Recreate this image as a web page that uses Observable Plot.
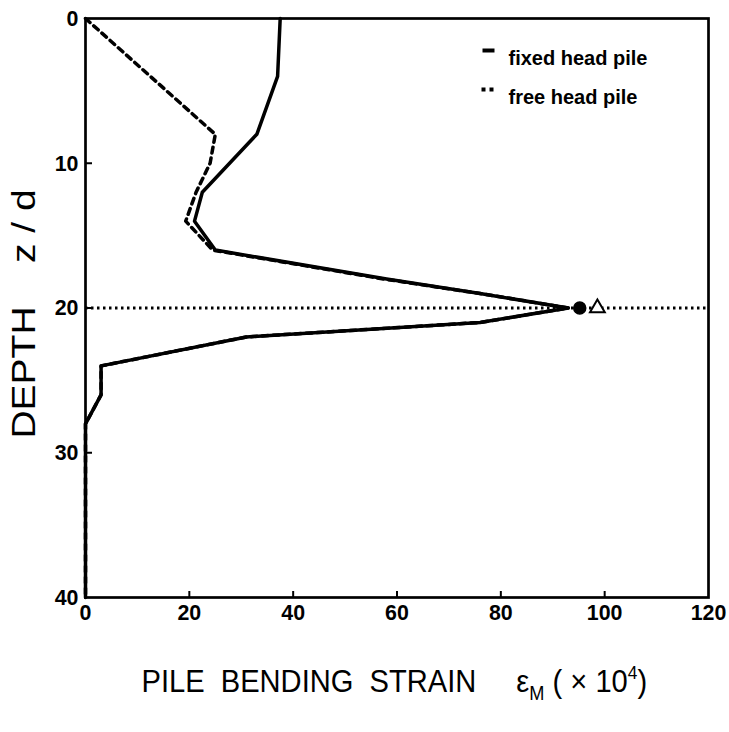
<!DOCTYPE html>
<html><head><meta charset="utf-8">
<script src="https://cdn.jsdelivr.net/npm/d3@7"></script>
<script src="https://cdn.jsdelivr.net/npm/@observablehq/plot@0.6"></script>
<style>body{margin:0;background:#fff}</style>
</head><body><div id="chart"></div>
<script>
// ---- data ----
const strainTicks = [0, 20, 40, 60, 80, 100, 120];
const depthTicks = [0, 10, 20, 30, 40];
const innerStrainTicks = [20, 40, 60, 80, 100];
const innerDepthTicks = [10, 20, 30];

const fixedDepth  = [0, 4, 8, 12, 14, 16, 18, 19, 20, 21, 22, 24, 26, 28, 40];
const fixedStrain = [37.5, 37, 33, 22.5, 21, 25, 58, 76, 93, 76, 31, 3, 3, 0, 0];

const freeDepth  = [0, 8, 10, 12, 14, 16, 18, 19, 20, 21, 22, 24, 26, 28, 40];
const freeStrain = [0, 25, 24, 21.3, 19.3, 24.5, 57.5, 76, 93, 76, 31, 3, 3, 0, 0];

const peakDepth = [20];
const fixedMarkerStrain = [95.2];
const freeMarkerStrain = [98.6];

const legendLabels = ["fixed head pile", "free head pile"];
const yLabel = "DEPTH    z / d";
const xLabelMain = "PILE  BENDING  STRAIN";
const xLabelSym = "ε", xLabelSub = "M", xLabelMid = " ( × 10", xLabelSup = "4", xLabelEnd = ")";

// ---- build ----
const fixed = fixedDepth.map((z, i) => ({z, s: fixedStrain[i]}));
const free = freeDepth.map((z, i) => ({z, s: freeStrain[i]}));
const fixedMark = fixedMarkerStrain.map(s => ({s, z: peakDepth[0]}));
const freeMark = freeMarkerStrain.map(s => ({s, z: peakDepth[0]}));

const W = 729, H = 732, mL = 85, mR = 21, mT = 18, mB = 135;
const plotW = W - mL - mR, plotH = H - mT - mB;
const font = "'Liberation Sans', Arial, Helvetica, sans-serif";

const dashSwatch = {draw(ctx) { ctx.rect(-6, -2, 12, 4); }};
const dotsSwatch = {draw(ctx) { ctx.rect(-7, -2, 4, 4); ctx.rect(1, -2, 4, 4); }};

const xLabelFull = xLabelMain + xLabelSym + xLabelSub + xLabelMid + xLabelSup + xLabelEnd;

const chart = Plot.plot({
  width: W, height: H,
  marginLeft: mL, marginRight: mR, marginTop: mT, marginBottom: mB,
  x: {domain: [0, 120]},
  y: {domain: [40, 0]},
  style: {fontFamily: font, background: "#fff", color: "#000"},
  marks: [
    Plot.ruleY(peakDepth, {stroke: "#000", strokeWidth: 3, strokeDasharray: "2.5,3.5"}),
    Plot.line(fixed, {x: "s", y: "z", stroke: "#000", strokeWidth: 3.5}),
    Plot.line(free, {x: "s", y: "z", stroke: "#000", strokeWidth: 3.5, strokeDasharray: "6,5"}),
    Plot.dot(fixedMark, {x: "s", y: "z", symbol: "circle", r: 6, fill: "#000", stroke: "#000"}),
    Plot.dot(freeMark, {x: "s", y: "z", symbol: "triangle", r: 5.5, fill: "#fff", stroke: "#000", strokeWidth: 2}),
    Plot.tickX(innerStrainTicks, {x: d => d, insetTop: plotH - 6, stroke: "#000", strokeWidth: 2}),
    Plot.tickY(innerDepthTicks, {y: d => d, insetRight: plotW - 7, stroke: "#000", strokeWidth: 2}),
    Plot.axisX(strainTicks, {tickSize: 0, tickPadding: 6, fontSize: 23, fontWeight: "bold", label: null}),
    Plot.axisY(depthTicks, {tickSize: 0, tickPadding: 7, fontSize: 23, fontWeight: "bold", label: null}),
    Plot.frame({stroke: "#000", strokeWidth: 2.7}),
    // legend
    Plot.dot([legendLabels[0]], {frameAnchor: "top-left", dx: 403, dy: 32, symbol: dashSwatch, r: 5, fill: "#000", stroke: "none"}),
    Plot.text([legendLabels[0]], {frameAnchor: "top-left", dx: 423, dy: 32, text: d => d, textAnchor: "start", fontSize: 20, fontWeight: "bold"}),
    Plot.dot([legendLabels[1]], {frameAnchor: "top-left", dx: 403, dy: 71, symbol: dotsSwatch, r: 5, fill: "#000", stroke: "none"}),
    Plot.text([legendLabels[1]], {frameAnchor: "top-left", dx: 423, dy: 71, text: d => d, textAnchor: "start", fontSize: 20, fontWeight: "bold"}),
    // axis titles
    Plot.text([yLabel], {frameAnchor: "left", dx: -61, dy: 6, rotate: -90, text: d => d, fontSize: 39, textAnchor: "middle"}),
    Plot.text([xLabelFull], {frameAnchor: "bottom-left", dx: 56, dy: 94, text: d => d, fontSize: 32, textAnchor: "start"})
  ]
});
document.getElementById("chart").appendChild(chart);

const ns = "http://www.w3.org/2000/svg";
chart.querySelectorAll("text").forEach(t => {
  if (t.textContent === xLabelFull) {
    t.textContent = "";
    t.style.whiteSpace = "pre";
    t.setAttribute("data-role", "xtitle");
    const add = (txt, attrs) => {
      const ts = document.createElementNS(ns, "tspan");
      for (const k in attrs) ts.setAttribute(k, attrs[k]);
      ts.textContent = txt;
      t.appendChild(ts);
    };
    add(xLabelMain, {});
    add(xLabelSym, {dx: 44});
    add(xLabelSub, {"font-size": 20, dy: 8});
    add(xLabelMid, {dy: -8});
    add(xLabelSup, {"font-size": 19, dy: -13});
    add(xLabelEnd, {dy: 13});
  } else if (t.textContent === yLabel) {
    t.style.whiteSpace = "pre";
    t.setAttribute("data-role", "ytitle");
  }
});
chart.querySelectorAll("text").forEach(t => {
  if (legendLabels.includes(t.textContent)) return;
  const tr = t.getAttribute("transform") || "";
  const role = t.getAttribute("data-role");
  if (role === "ytitle") t.setAttribute("transform", tr + " scale(1,0.86)");
  else if (role === "xtitle") t.setAttribute("transform", tr + " scale(0.91,1)");
  else t.setAttribute("transform", tr + " scale(0.93,1)");
});
</script>
</body></html>
